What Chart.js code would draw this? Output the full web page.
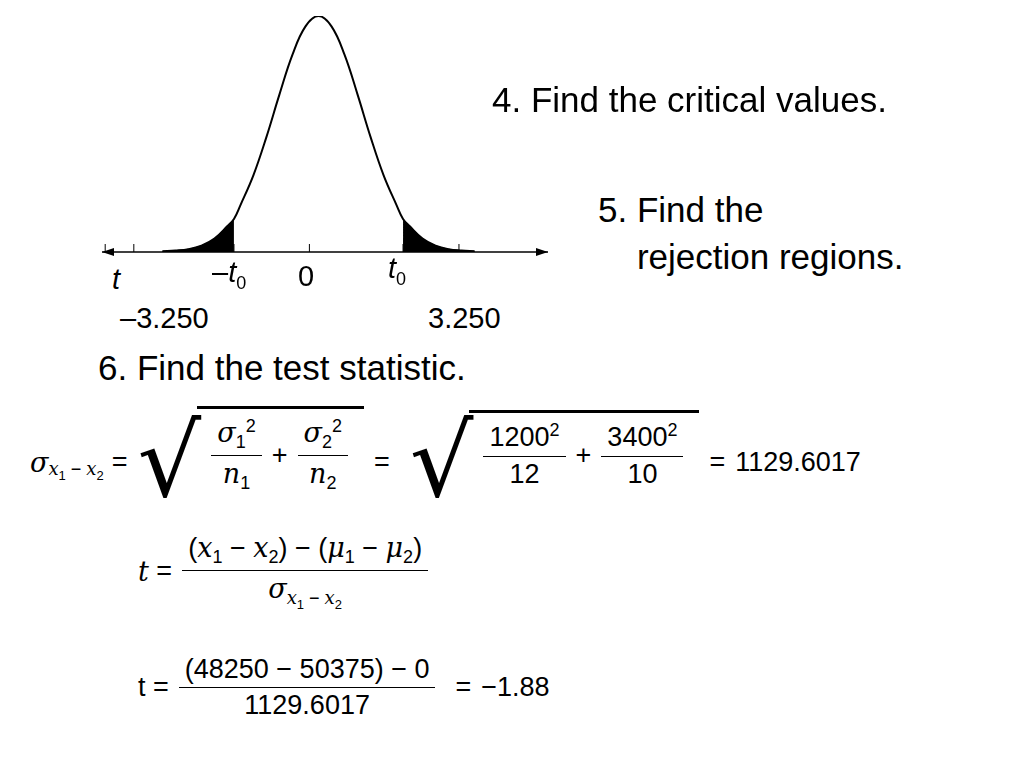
<!DOCTYPE html>
<html><head><meta charset="utf-8">
<script src="https://cdn.jsdelivr.net/npm/chart.js@4"></script>
<style>
body{margin:0;width:1024px;height:768px;background:#fff;font-family:"Liberation Sans",Arial,sans-serif;color:#000;position:relative;overflow:hidden}
.a{position:absolute;white-space:nowrap}
.big{font-size:35px}
.lab{font-size:29px}
.m{font-size:27px;display:flex;align-items:center}
.fr{display:inline-flex;flex-direction:column;align-items:center;margin:0 10px}
.fr>span:first-child{border-bottom:1.5px solid #000;padding:0 6px}
.fr>span{padding:0 6px;line-height:1.3}
.rad{display:inline-flex;align-items:center;margin-left:10px}
.rad .sym{font-size:100px;line-height:1;margin-right:-4px;font-family:"DejaVu Sans"}
.rad .in{border-top:3px solid #000;display:inline-flex;align-items:center;padding:6px 6px 0 4px;margin-top:-22px}
i{font-family:"DejaVu Serif",serif}
sub,sup{font-size:18px}
.sp{margin:0 10px}
</style></head><body>
<div class="a" style="left:100px;top:0;width:450px;height:262px"><canvas id="c"></canvas></div>
<div class="a lab" style="left:112px;top:263px"><i style="font-family:'Liberation Sans'">t</i></div>
<div class="a lab" style="left:212px;top:256px">–<i style="font-family:'Liberation Sans'">t</i><sub>0</sub></div>
<div class="a lab" style="left:298px;top:260px">0</div>
<div class="a lab" style="left:388px;top:252px"><i style="font-family:'Liberation Sans'">t</i><sub>0</sub></div>
<div class="a lab" style="left:120px;top:302px">–3.250</div>
<div class="a lab" style="left:428px;top:302px">3.250</div>
<div class="a big" style="left:492px;top:80px">4. Find the critical values.</div>
<div class="a big" style="left:598px;top:186px;line-height:1.35">5. Find the<br>&nbsp;&nbsp;&nbsp;&nbsp;rejection regions.</div>
<div class="a big" style="left:98px;top:348px">6. Find the test statistic.</div>
<div class="a m" style="left:30px;top:412px">
 <i>σ</i><sub style="margin-top:16px;margin-right:8px"><i>x</i><sub style="font-size:13px">1</sub> − <i>x</i><sub style="font-size:13px">2</sub></sub>=
 <span class="rad"><span class="sym">√</span><span class="in">
  <span class="fr"><span><i>σ</i><sub>1</sub><sup>2</sup></span><span><i>n</i><sub>1</sub></span></span>+
  <span class="fr"><span><i>σ</i><sub>2</sub><sup>2</sup></span><span><i>n</i><sub>2</sub></span></span></span></span>
 <span class="sp">=</span>
 <span class="rad"><span class="sym">√</span><span class="in">
  <span class="fr"><span>1200<sup>2</sup></span><span>12</span></span>+
  <span class="fr"><span>3400<sup>2</sup></span><span>10</span></span></span></span>
 <span class="sp">=</span>1129.6017</div>
<div class="a m" style="left:138px;top:530px"><i>t</i>&nbsp;=
 <span class="fr"><span>(<i>x</i><sub>1</sub> − <i>x</i><sub>2</sub>) − (<i>μ</i><sub>1</sub> − <i>μ</i><sub>2</sub>)</span><span><i>σ</i><sub><i>x</i><sub style="font-size:13px">1</sub> − <i>x</i><sub style="font-size:13px">2</sub></sub></span></span></div>
<div class="a m" style="left:138px;top:652px">t&nbsp;=
 <span class="fr"><span>(48250 − 50375) − 0</span><span>1129.6017</span></span><span class="sp">=</span>−1.88</div>
<script>
const xs = [-6,-5.5,-5,-4.5,-4,-3.5,-3.25,-3,-2.5,-2,-1.5,-1,-0.5,0,0.5,1,1.5,2,2.5,3,3.25,3.5,4,4.5,5,5.5,6];
const ys = [0.3,0.6,1.2,2.7,5.7,11,14,19.9,32.6,48.8,66.8,83.6,95.6,100,95.6,83.6,66.8,48.8,32.6,19.9,14,11,5.7,2.7,1.2,0.6,0.3];
const critical = 3.25;
const tickXs = [-8.2,-7.1,-3.25,-0.35,3.25,5.4];
const curve = xs.map((x,i)=>({x,y:ys[i]}));
const leftTail = curve.filter(p=>p.x<=-critical);
const rightTail = curve.filter(p=>p.x>=critical);
const axisPlugin = {id:'axis',afterDatasetsDraw(ch){
  const {ctx,scales:{x,y}} = ch; const y0=y.getPixelForValue(0);
  const l=x.getPixelForValue(x.min)+2, r=x.getPixelForValue(x.max)-2;
  ctx.save(); ctx.strokeStyle='#000'; ctx.fillStyle='#000'; ctx.lineWidth=1.5;
  ctx.beginPath(); ctx.moveTo(l,y0); ctx.lineTo(r,y0); ctx.stroke();
  ctx.beginPath(); ctx.moveTo(l,y0); ctx.lineTo(l+12,y0-4); ctx.lineTo(l+12,y0+4); ctx.fill();
  ctx.beginPath(); ctx.moveTo(r,y0); ctx.lineTo(r-12,y0-4); ctx.lineTo(r-12,y0+4); ctx.fill();
  ctx.lineWidth=1; tickXs.forEach(t=>{const px=x.getPixelForValue(t); ctx.beginPath(); ctx.moveTo(px,y0-8); ctx.lineTo(px,y0); ctx.stroke();});
  ctx.restore();}};
new Chart(document.getElementById('c'),{type:'line',
 data:{datasets:[
  {data:curve,borderColor:'#000',borderWidth:2,tension:0.4,pointRadius:0,fill:false},
  {data:leftTail,borderColor:'#000',backgroundColor:'#000',borderWidth:1,tension:0.4,pointRadius:0,fill:'origin'},
  {data:rightTail,borderColor:'#000',backgroundColor:'#000',borderWidth:1,tension:0.4,pointRadius:0,fill:'origin'}]},
 options:{responsive:true,maintainAspectRatio:false,animation:false,
  layout:{padding:{top:16,bottom:10}},
  plugins:{legend:{display:false},tooltip:{enabled:false}},
  scales:{x:{type:'linear',min:-8.4,max:8.9,display:false},y:{min:0,max:100,display:false}}},
 plugins:[axisPlugin]});
</script>
</body></html>
